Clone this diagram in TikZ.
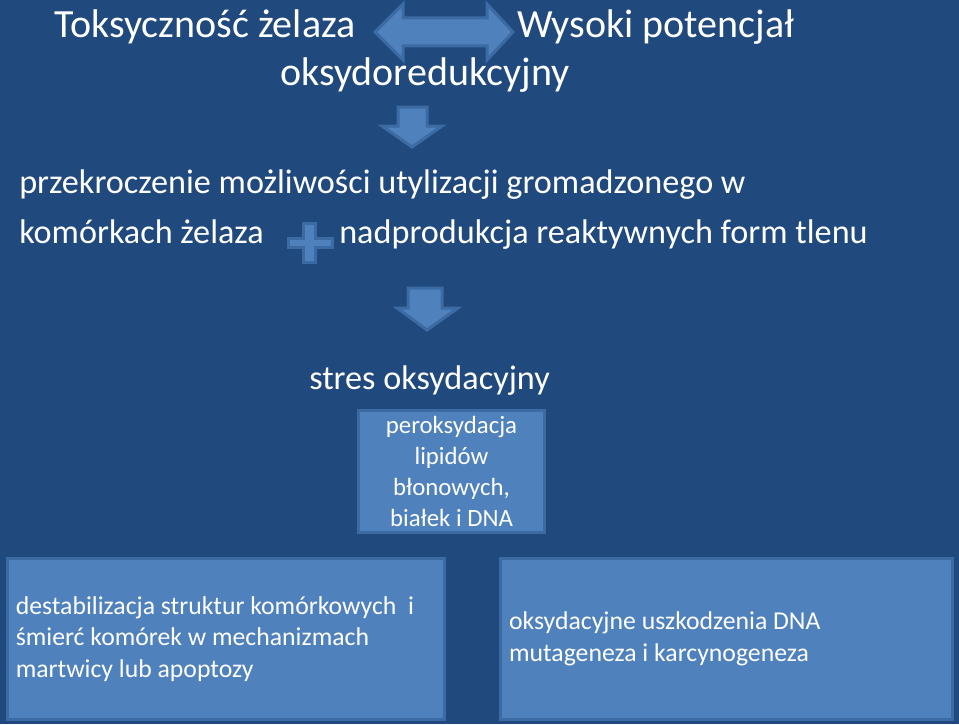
\documentclass[tikz,border=0pt]{standalone}
\usepackage{fontspec}
\setmainfont{Carlito}
\definecolor{bg}{HTML}{20497E}
\definecolor{shapefill}{HTML}{4F81BD}
\definecolor{shapeline}{HTML}{3C6BA4}
\begin{document}
\begin{tikzpicture}[x=0.75pt,y=-0.75pt,
  txt/.style={anchor=base west,inner sep=0pt,text=white},
  big/.style={font=\fontsize{30}{36}\selectfont},
  mid/.style={font=\fontsize{25.65}{30}\selectfont},
  boxtext/.style={inner sep=0pt,text=white,font=\fontsize{19.3}{23.6}\selectfont},
  shp/.style={fill=shapefill,draw=shapeline,line width=2.25pt,line join=miter},
  boxnode/.style={shp,rectangle,inner sep=0pt}]
\fill[bg] (0,0) rectangle (959,724);
\useasboundingbox (0,0) rectangle (959,724);
% texts
\node[txt,big] (t1) at (54,38) {Toksyczność żelaza};
\node[txt,big] (t2) at (517,38) {Wysoki potencjał};
\node[txt,big] (t3) at (280,85) {oksydoredukcyjny};
\node[txt,mid] (t4) at (19,193) {przekroczenie możliwości utylizacji gromadzonego w};
\node[txt,mid] (t5) at (19,243) {komórkach żelaza};
\node[txt,mid] (t6) at (339,243) {nadprodukcja reaktywnych form tlenu};
\node[txt,mid] (t7) at (309,389) {stres oksydacyjny};
% double arrow
\filldraw[shp] (375,32) -- (403,4) -- (403,18) -- (487,18) -- (487,4) -- (513,32)
  -- (487,60) -- (487,46) -- (403,46) -- (403,60) -- cycle;
% down arrow 1
\filldraw[shp] (398,107) -- (427,107) -- (427,126) -- (442,126) -- (412,147)
  -- (382,126) -- (398,126) -- cycle;
% plus
\filldraw[shp] (303,223) -- (315,223) -- (315,238) -- (332,238) -- (332,247)
  -- (315,247) -- (315,262) -- (303,262) -- (303,247) -- (288,247) -- (288,238)
  -- (303,238) -- cycle;
% down arrow 2
\filldraw[shp] (408,288) -- (442,288) -- (442,308) -- (458,308) -- (427,330)
  -- (397,308) -- (408,308) -- cycle;
% boxes
\node[boxnode,minimum width=139.5pt,minimum height=91.5pt] (perox) at (451.5,471) {};
\node[boxtext,align=center,font=\fontsize{18.6}{23.25}\selectfont] (peroxt) at (perox.center)
  {peroksydacja\\lipidów\\błonowych,\\białek i DNA};
\node[boxnode,minimum width=327.75pt,minimum height=120.75pt] (left) at (225.5,639) {};
\node[boxtext,align=left,anchor=west] (leftt) at ([xshift=7.5pt]left.west)
  {destabilizacja struktur komórkowych\ \ i\\śmierć komórek w mechanizmach\\martwicy lub apoptozy};
\node[boxnode,minimum width=339pt,minimum height=120.75pt] (right) at (726,639) {};
\node[boxtext,align=left,anchor=west] (rightt) at ([xshift=7.75pt]right.west)
  {oksydacyjne uszkodzenia DNA\\mutageneza i karcynogeneza};
\end{tikzpicture}
\end{document}
